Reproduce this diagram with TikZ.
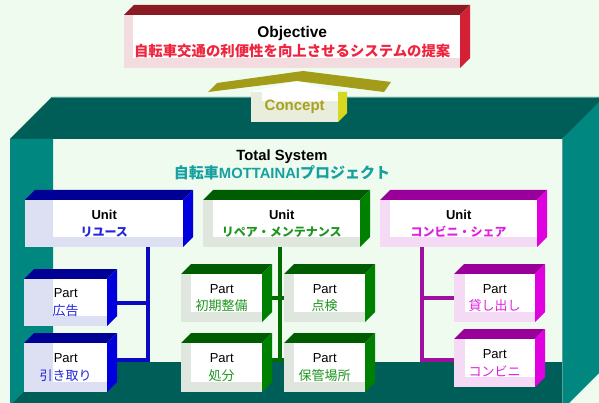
\documentclass[tikz,border=0pt]{standalone}
\usepackage{fontspec}
\setmainfont{Liberation Sans}
\newfontfamily\jp{Noto Sans CJK JP}
\pgfdeclarelayer{back}
\pgfdeclarelayer{conn}
\pgfsetlayers{back,conn,main}
\definecolor{bgmint}{HTML}{EEFBEE}
\definecolor{tealtop}{HTML}{005E58}
\definecolor{tealside}{HTML}{00877F}
\definecolor{tealedge}{HTML}{5E9E98}
\definecolor{tealtext}{HTML}{17A0A0}
\definecolor{redtop}{HTML}{8B1A22}
\definecolor{redside}{HTML}{D42034}
\definecolor{redtint}{HTML}{F2DCE0}
\definecolor{redtext}{HTML}{F0243E}
\definecolor{olive}{HTML}{A29C18}
\definecolor{olivetext}{HTML}{A8A020}
\definecolor{yellowside}{HTML}{D9D820}
\definecolor{creamtint}{HTML}{E9EEDC}
\definecolor{bluetop}{HTML}{000094}
\definecolor{blueside}{HTML}{0000DE}
\definecolor{bluetint}{HTML}{DDE0F2}
\definecolor{bluetext}{HTML}{2424DC}
\definecolor{blueline}{HTML}{0A0AC4}
\definecolor{greentop}{HTML}{005C00}
\definecolor{greenside}{HTML}{008000}
\definecolor{greentint}{HTML}{DEE6DE}
\definecolor{greentext}{HTML}{1E961E}
\definecolor{greenline}{HTML}{006C00}
\definecolor{magtop}{HTML}{990099}
\definecolor{magside}{HTML}{E000E0}
\definecolor{magtint}{HTML}{F4DAF4}
\definecolor{magtext}{HTML}{E020E0}
\definecolor{magline}{HTML}{A010A0}
\tikzset{
  unittext/.style={align=center,font=\bfseries\fontsize{13}{17}\selectfont},
  parttext/.style={align=center,font=\fontsize{13}{17.5}\selectfont},
  objtext/.style={align=center,font=\bfseries\fontsize{15.5}{20}\selectfont},
  conline/.style={line width=4pt},
}
% #1 name, #2 x, #3 y, #4 w, #5 h, #6 scheme, #7 left strip, #8 style, #9 text
\newcommand\cubebox[9]{%
  \fill[#6top] (#2,#3) -- ++(10,-10) -- ++(#4,0) -- ++(-10,10) -- cycle;
  \fill[#6side] (#2+#4,#3) -- ++(10,-10) -- ++(0,#5) -- ++(-10,10) -- cycle;
  \fill[#6tint] (#2,#3) rectangle ++(#4,#5);
  \fill[white] (#2+#7,#3) rectangle (#2+#4,#3+#5-10);
  \node[#8,minimum width=#4pt,minimum height=#5pt,inner sep=0pt,anchor=north west] (#1) at (#2,#3) {#9};
}
\begin{document}
\begin{tikzpicture}[x=1pt,y=-1pt]
\useasboundingbox (0,0) rectangle (599,403);
\begin{pgfonlayer}{back}
  \fill[bgmint] (0,0) rectangle (599,403);
  % big open box
  \fill[tealtop] (10,139) -- (52,97) -- (610,97) -- (562,139) -- cycle;
  \fill[tealside] (562,139) -- (610,91) -- (610,362) -- (562,410) -- cycle;
  \fill[tealside] (10,139) -- (53,139) -- (53,362) -- (10,405) -- cycle;
  \fill[tealtop] (53,362) -- (562,362) -- (562,410) -- (10,410) -- (10,405) -- cycle;
  \draw[tealedge,line width=0.8pt] (52,97) -- (610,97);
  \draw[tealedge,line width=0.8pt] (562,139) -- (562,410);
\end{pgfonlayer}

% Objective
\cubebox{obj}{124}{15}{336}{53}{red}{9}{objtext}{Objective\\[-1pt]{\jp\fontsize{14.4}{20}\selectfont\color{redtext}自転車交通の利便性を向上させるシステムの提案}}

% Concept arrow
\fill[white] (251,92) -- (297,81) -- (338,92) -- cycle;
\fill[olive] (208,92) -- (217,83) -- (303,71) -- (391,82) -- (384,92) -- (297,81) -- cycle;
\fill[yellowside] (338,92) -- (347,92) -- (347,113) -- (338,122) -- cycle;
\fill[creamtint] (251,92) rectangle (338,122);
\fill[white] (262,92) rectangle (338,101);
\node[font=\bfseries\fontsize{15}{18}\selectfont,text=olivetext,inner sep=0pt,
      minimum width=87pt,minimum height=30pt,anchor=north west] (concept) at (251,92) {Concept};

% Total system title
\node[align=center,font=\bfseries\fontsize{14.8}{18}\selectfont] (total) at (282,165)
  {Total System\\{\color{tealtext}{\jp\fontsize{15}{18}\selectfont 自転車}MOTTAINAI{\jp\fontsize{15}{18}\selectfont プロジェクト}}};

% Units
\cubebox{uReuse}{25}{200}{158}{47}{blue}{28}{unittext}{Unit\\{\jp\fontsize{12}{17}\selectfont\color{bluetext}リユース}}
\cubebox{uRepair}{203}{200}{157}{47}{green}{10}{unittext}{Unit\\{\jp\fontsize{12}{17}\selectfont\color{greentext}リペア・メンテナンス}}
\cubebox{uShare}{380}{200}{157}{47}{mag}{10}{unittext}{Unit\\{\jp\fontsize{12}{17}\selectfont\color{magtext}コンビニ・シェア}}

% Parts
\cubebox{pAd}{24}{279}{83}{47}{blue}{29}{parttext}{Part\\{\jp\color{bluetext}広告}}
\cubebox{pTake}{24}{343}{83}{49}{blue}{29}{parttext}{Part\\{\jp\color{bluetext}引き取り}}
\cubebox{pInit}{181}{274}{81}{48}{green}{10}{parttext}{Part\\{\jp\color{greentext}初期整備}}
\cubebox{pCheck}{284}{274}{81}{48}{green}{10}{parttext}{Part\\{\jp\color{greentext}点検}}
\cubebox{pDisp}{181}{343}{81}{49}{green}{10}{parttext}{Part\\{\jp\color{greentext}処分}}
\cubebox{pStore}{284}{343}{81}{49}{green}{10}{parttext}{Part\\{\jp\color{greentext}保管場所}}
\cubebox{pLend}{454}{274}{81}{48}{mag}{11}{parttext}{Part\\{\jp\color{magtext}貸し出し}}
\cubebox{pConv}{454}{339}{81}{48}{mag}{11}{parttext}{Part\\{\jp\color{magtext}コンビニ}}

% Connectors
\coordinate (bj) at (148,360);
\coordinate (gj) at (280,360);
\coordinate (mj) at (422,360);
\begin{pgfonlayer}{conn}
  \draw[conline,blueline] (uReuse.south -| bj) -- (bj) -- (pTake.east |- bj);
  \draw[conline,blueline] (pAd.east) -- (pAd.east -| bj);
  \draw[conline,greenline] (uRepair.south -| gj) -- (gj);
  \draw[conline,greenline] (pInit.east) -- (pCheck.west);
  \draw[conline,greenline] (pDisp.east |- gj) -- (pStore.west |- gj);
  \draw[conline,magline] (uShare.south -| mj) -- (mj) -- (pConv.west |- mj);
  \draw[conline,magline] (mj |- pLend.west) -- (pLend.west);
\end{pgfonlayer}
\end{tikzpicture}
\end{document}
